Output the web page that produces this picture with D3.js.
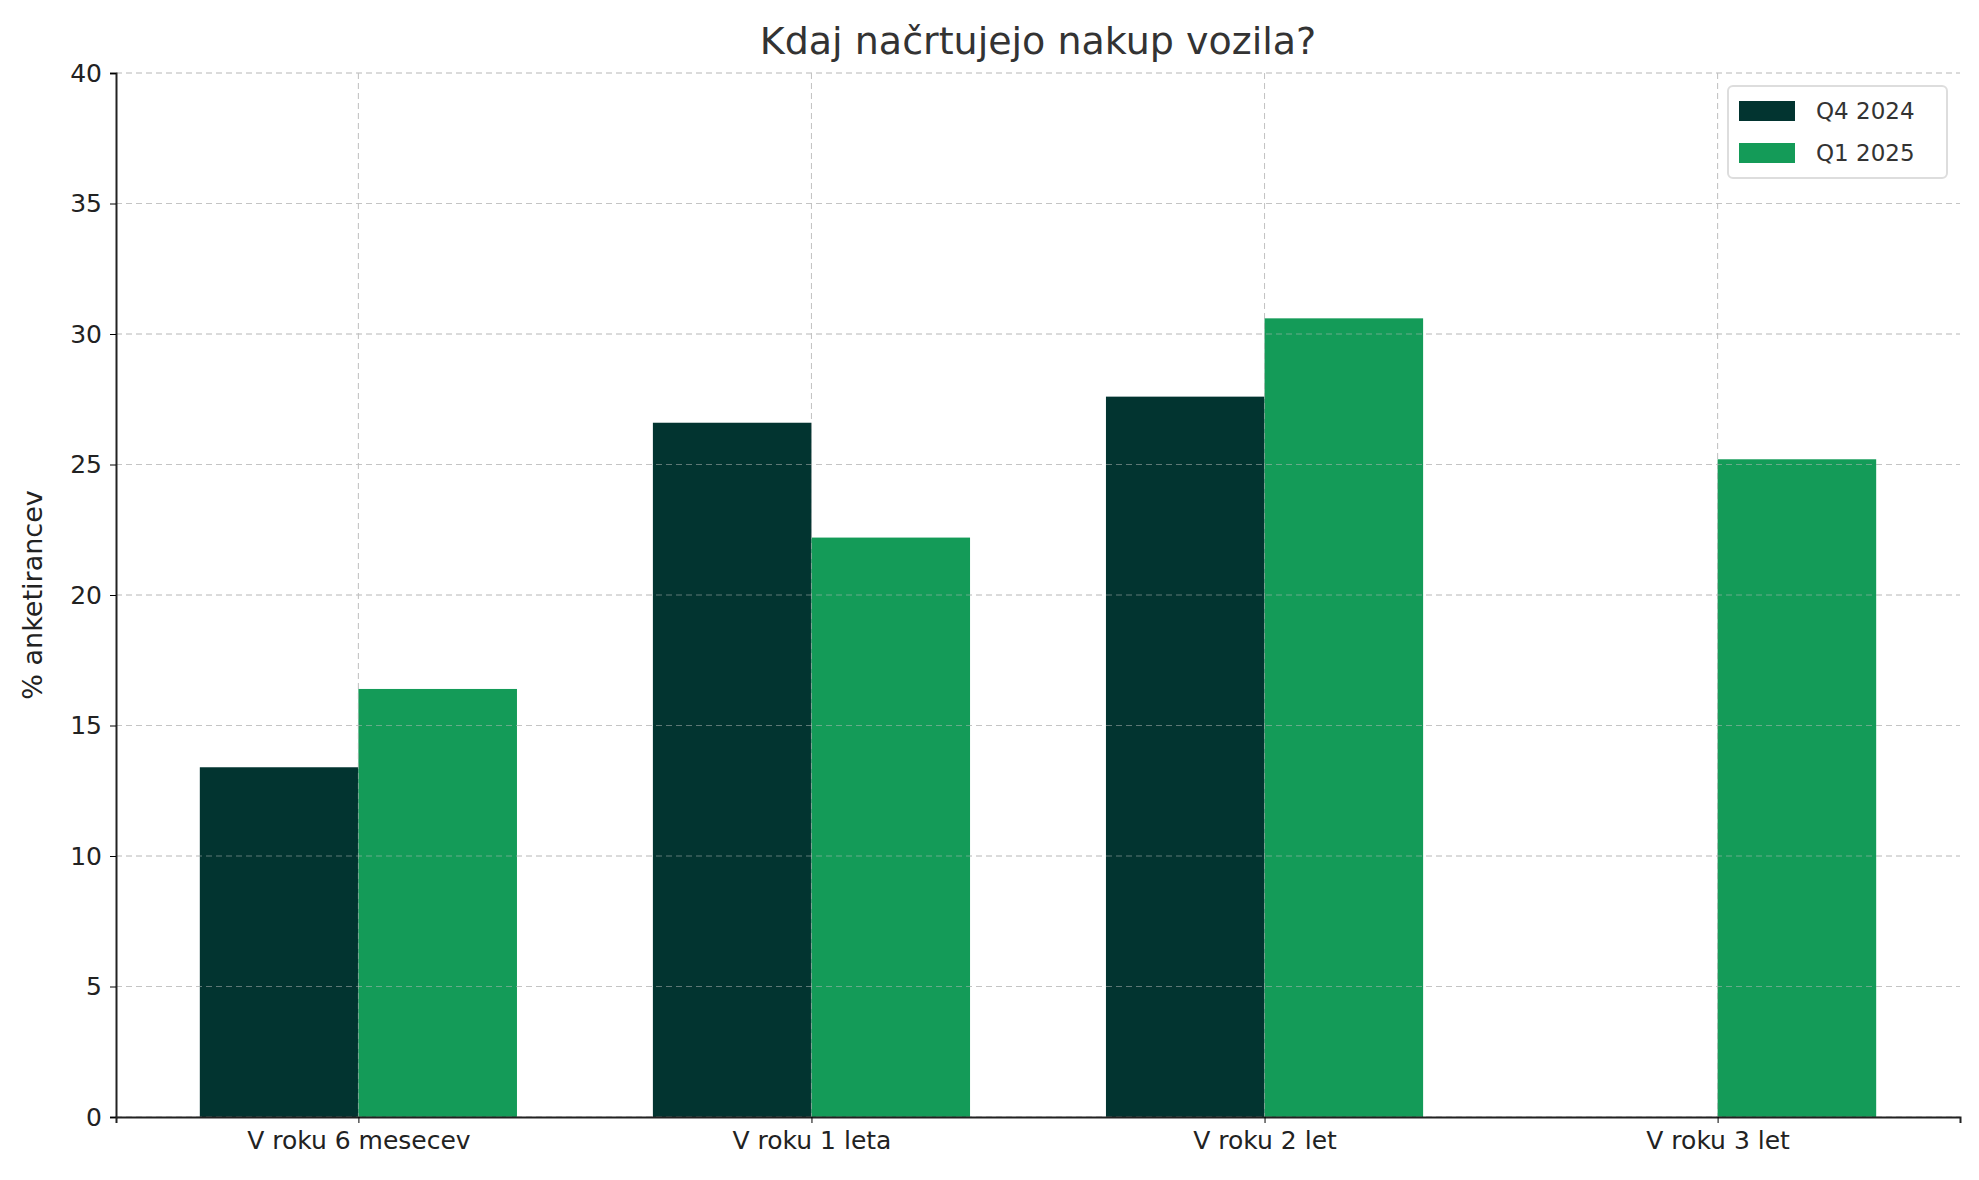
<!DOCTYPE html><html><head><meta charset="utf-8"><script src="https://cdn.jsdelivr.net/npm/d3@7"></script>
<style>body{margin:0;background:#fff}text{font-family:"DejaVu Sans",sans-serif}</style></head><body><svg id="c" width="1979" height="1180"></svg>
<script>
const categories=["V roku 6 mesecev","V roku 1 leta","V roku 2 let","V roku 3 let"];
const seriesNames=["Q4 2024","Q1 2025"];
const q4=[13.4,26.6,27.6,0];
const q1=[16.4,22.2,30.6,25.2];
const yTicks=[0,5,10,15,20,25,30,35,40];
const colors=["#023430","#149b58"];
const svg=d3.select("#c");
const L=116,R=1960,T=73,B=1117;
const x=d3.scaleLinear().domain([-0.535,3.535]).range([L,R]);
const y=d3.scaleLinear().domain([0,40]).range([B,T]);
const bw=0.35;
const g=svg.append("g");
// grid
g.selectAll(".hg").data(yTicks).join("line").attr("x1",L).attr("x2",R).attr("y1",d=>y(d)).attr("y2",d=>y(d)).attr("stroke","#ccc").attr("stroke-dasharray","6,4").attr("stroke-width",1);
g.selectAll(".vg").data(categories).join("line").attr("x1",(d,i)=>x(i)).attr("x2",(d,i)=>x(i)).attr("y1",T).attr("y2",B).attr("stroke","#ccc").attr("stroke-dasharray","6,4").attr("stroke-width",1);
[q4,q1].forEach((s,k)=>{
 svg.append("g").selectAll("rect").data(s).join("rect")
 .attr("x",(d,i)=>x(i+(k===0?-bw:0))).attr("width",x(bw)-x(0))
 .attr("y",d=>y(d)).attr("height",d=>y(0)-y(d)).attr("fill",colors[k]);
});
// grid over bars (matplotlib draws grid above?) reference shows faint lines over bars
svg.append("g").selectAll("line").data(categories).join("line").attr("x1",(d,i)=>x(i)).attr("x2",(d,i)=>x(i)).attr("y1",T).attr("y2",B).attr("stroke","#bbb").attr("stroke-opacity",0.5).attr("stroke-dasharray","6,4");
svg.append("g").selectAll("line").data(yTicks).join("line").attr("x1",L).attr("x2",R).attr("y1",d=>y(d)).attr("y2",d=>y(d)).attr("stroke","#bbb").attr("stroke-opacity",0.5).attr("stroke-dasharray","6,4");
const ya=svg.append("g").attr("transform",`translate(${L},0)`).call(d3.axisLeft(y).tickValues(yTicks).tickSize(6).tickPadding(8));
ya.selectAll("text").attr("font-size",25).attr("fill","#222").style("font-family","DejaVu Sans");
ya.select(".domain").attr("stroke","#222").attr("stroke-width",2);
const xa=svg.append("g").attr("transform",`translate(0,${B})`).call(d3.axisBottom(x).tickValues([0,1,2,3]).tickFormat(i=>categories[i]).tickSize(6).tickPadding(8));
xa.selectAll("text").attr("font-size",25).attr("fill","#222").style("font-family","DejaVu Sans");
xa.select(".domain").attr("stroke","#222").attr("stroke-width",2);
svg.append("text").attr("x",(L+R)/2).attr("y",54).attr("text-anchor","middle").attr("font-size",38).attr("fill","#333").text("Kdaj načrtujejo nakup vozila?");
svg.append("text").attr("transform",`translate(42,${(T+B)/2}) rotate(-90)`).attr("text-anchor","middle").attr("font-size",27).attr("fill","#222").text("% anketirancev");
const lg=svg.append("g");
lg.append("rect").attr("x",1728).attr("y",86).attr("width",219).attr("height",92).attr("rx",5).attr("fill","#fff").attr("fill-opacity",0.85).attr("stroke","#ddd").attr("stroke-width",2);
seriesNames.forEach((n,k)=>{
 lg.append("rect").attr("x",1739).attr("y",101+k*42).attr("width",56).attr("height",20).attr("fill",colors[k]);
 lg.append("text").attr("x",1816).attr("y",119+k*42).attr("font-size",23).attr("fill","#333").text(n);
});
</script></body></html>
